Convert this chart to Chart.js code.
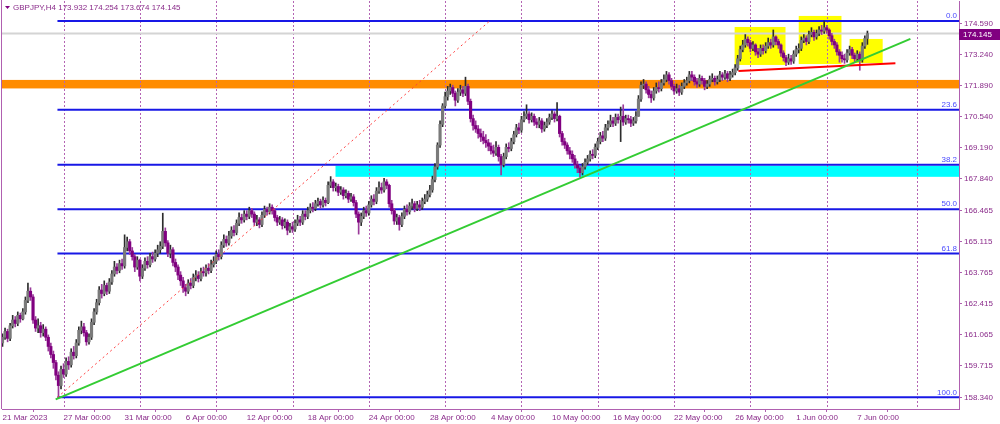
<!DOCTYPE html>
<html>
<head>
<meta charset="utf-8">
<title>GBPJPY,H4</title>
<script src="https://cdn.jsdelivr.net/npm/chart.js@4.4.0/dist/chart.umd.min.js"></script>
<style>
  html, body { margin: 0; padding: 0; background: #ffffff; }
  #wrap { width: 1000px; height: 424px; }
</style>
</head>
<body>
<div id="wrap"><canvas id="chart" width="1000" height="424"></canvas></div>
<script>
// bar numbers are counted from 27 Mar 00:00 (H4 bars, 6 per trading day)
const firstBar = -24;

const opens = [
  160.70,160.95,161.20,160.90,161.45,161.70,161.55,161.90,161.75,162.05,
  162.55,162.95,162.70,161.70,161.35,161.45,161.15,161.30,160.95,160.55,
  160.20,159.85,159.30,158.85,159.55,159.35,159.90,159.75,160.30,160.15,
  160.70,161.25,161.40,161.15,160.75,160.95,161.60,162.05,162.45,163.00,
  162.85,163.20,162.95,163.35,163.70,164.00,163.85,164.15,164.05,164.85,
  165.10,164.70,164.45,164.00,164.30,163.60,163.95,164.25,164.10,164.45,
  164.35,164.60,164.75,164.90,165.55,165.05,164.60,164.75,164.20,164.00,
  163.65,163.40,163.10,162.95,163.30,163.20,163.55,163.65,163.50,163.80,
  163.75,163.95,163.85,164.10,164.25,164.55,164.45,164.95,165.20,165.05,
  165.35,165.60,165.50,165.90,166.15,166.05,166.30,166.20,166.45,166.30,
  165.95,166.05,165.85,166.25,166.50,166.40,166.60,166.45,166.15,165.95,
  166.05,165.80,165.95,165.60,165.75,165.65,165.90,166.05,165.95,166.30,
  166.20,166.45,166.60,166.55,166.75,166.85,166.70,166.90,166.80,167.55,
  167.70,167.45,167.50,167.25,167.35,167.10,167.20,166.95,167.05,166.80,
  166.30,165.95,166.20,166.45,166.35,166.70,166.95,166.85,167.30,167.45,
  167.35,167.70,167.55,166.75,166.45,166.00,166.15,165.85,166.20,166.50,
  166.40,166.65,166.75,166.55,166.70,166.60,166.85,166.95,167.15,167.35,
  167.80,168.35,169.30,170.20,171.00,171.40,171.65,171.80,171.55,171.25,
  171.60,171.70,171.55,171.85,171.20,170.45,170.15,170.00,169.80,169.65,
  169.50,169.40,169.25,169.05,168.95,169.20,168.80,168.45,168.80,169.20,
  169.15,169.45,169.75,170.05,169.95,170.40,170.55,170.65,170.40,170.55,
  170.30,170.20,170.35,170.00,170.15,170.30,170.50,170.65,170.45,170.55,
  169.80,169.45,169.30,169.05,168.90,168.70,168.45,168.30,168.10,168.35,
  168.55,168.70,168.90,168.85,169.20,169.45,169.70,169.60,170.05,170.20,
  170.35,170.25,170.50,170.40,170.55,170.30,170.45,170.40,170.25,170.35,
  170.55,171.30,171.90,171.95,171.70,171.50,171.35,171.65,171.80,171.75,
  172.00,172.15,172.35,172.10,171.85,171.65,171.75,171.60,171.85,172.00,
  172.10,172.35,172.25,172.05,171.95,172.20,172.10,171.85,171.95,172.15,
  172.20,172.05,172.15,172.35,172.25,172.40,172.20,172.35,172.45,172.65,
  173.05,173.45,173.65,173.90,173.75,173.50,173.65,173.35,173.25,173.50,
  173.40,173.60,173.75,173.65,174.00,173.80,173.65,173.30,173.10,172.90,
  173.05,172.95,173.25,173.45,173.50,173.85,173.95,173.80,174.10,174.20,
  174.00,174.15,174.30,174.25,174.40,174.30,174.05,173.80,173.65,173.35,
  173.20,173.05,173.00,173.30,173.45,173.20,173.05,173.25,173.00,173.60,173.932
];
const highs = [
  161.10,161.35,161.30,161.55,161.90,161.85,162.05,162.00,162.20,162.70,
  163.30,163.10,162.80,161.85,161.75,161.60,161.50,161.40,161.05,160.70,
  160.35,159.95,159.45,159.70,159.80,160.05,160.10,160.45,160.55,160.85,
  161.40,161.65,161.55,161.25,161.10,161.75,162.20,162.60,163.15,163.25,
  163.40,163.30,163.50,163.85,164.25,164.15,164.30,164.35,165.40,165.30,
  165.20,164.85,164.55,164.45,164.35,164.10,164.40,164.45,164.60,164.65,
  164.75,164.95,165.10,166.34,165.70,165.15,164.95,164.85,164.35,164.10,
  163.80,163.55,163.25,163.45,163.50,163.70,163.85,163.80,163.95,164.00,
  164.10,164.15,164.30,164.45,164.70,164.75,165.10,165.40,165.35,165.55,
  165.75,165.80,166.05,166.35,166.30,166.45,166.45,166.60,166.55,166.40,
  166.25,166.15,166.40,166.65,166.60,166.75,166.70,166.55,166.25,166.20,
  166.15,166.10,166.05,165.90,165.95,166.05,166.25,166.20,166.45,166.45,
  166.60,166.75,166.80,166.90,167.00,166.95,167.05,167.00,167.70,167.93,
  167.80,167.65,167.60,167.50,167.45,167.35,167.30,167.20,167.15,166.90,
  166.40,166.35,166.60,166.65,166.85,167.10,167.15,167.45,167.70,167.65,
  167.85,167.80,167.60,166.90,166.55,166.30,166.25,166.35,166.65,166.70,
  166.80,166.95,166.85,166.85,166.90,167.00,167.15,167.30,167.55,167.95,
  168.50,169.40,170.35,171.10,171.60,171.85,171.95,171.90,171.65,171.75,
  171.90,171.85,172.25,171.95,171.30,170.60,170.35,170.15,170.00,169.90,
  169.75,169.55,169.40,169.30,169.45,169.30,168.90,168.95,169.35,169.40,
  169.60,169.90,170.20,170.25,170.55,170.75,171.05,170.75,170.70,170.65,
  170.45,170.50,170.45,170.30,170.45,170.65,170.80,170.75,171.15,170.60,
  169.90,169.60,169.40,169.20,169.05,168.85,168.60,168.40,168.50,168.70,
  168.85,169.05,169.10,169.35,169.60,169.85,169.90,170.20,170.35,170.60,
  170.50,170.65,170.65,170.95,171.05,170.60,170.60,170.55,170.50,170.75,
  171.45,172.05,172.15,172.05,171.85,171.65,171.80,172.00,172.05,172.15,
  172.35,172.50,172.45,172.20,171.95,171.95,171.90,172.00,172.15,172.25,
  172.50,172.50,172.35,172.20,172.35,172.30,172.20,172.10,172.30,172.40,
  172.30,172.30,172.50,172.45,172.55,172.50,172.50,172.60,172.80,173.20,
  173.60,173.85,174.10,174.00,173.85,173.80,173.70,173.50,173.65,173.65,
  173.75,173.95,173.90,174.30,174.05,173.90,173.70,173.40,173.20,173.25,
  173.20,173.40,173.60,173.70,174.00,174.10,174.05,174.25,174.40,174.30,
  174.30,174.45,174.50,174.69,174.50,174.35,174.15,173.90,173.75,173.45,
  173.35,173.25,173.45,173.60,173.55,173.30,173.40,173.35,173.75,174.05,174.254
];
const lows = [
  160.55,160.85,160.75,160.80,161.35,161.40,161.45,161.60,161.70,161.95,
  162.45,162.55,161.55,161.20,161.15,160.95,161.00,160.80,160.35,160.05,
  159.60,159.10,158.32,158.70,159.20,159.25,159.55,159.65,160.00,160.05,
  160.60,161.10,161.00,160.60,160.65,160.85,161.50,161.95,162.35,162.65,
  162.75,162.80,162.85,163.25,163.60,163.70,163.75,163.90,163.95,164.70,
  164.55,164.30,163.80,163.90,163.40,163.50,163.85,163.95,164.00,164.20,
  164.25,164.45,164.60,164.80,164.90,164.45,164.40,164.05,163.80,163.45,
  163.20,162.90,162.75,162.85,163.05,163.10,163.40,163.35,163.40,163.60,
  163.60,163.70,163.75,164.00,164.15,164.30,164.35,164.85,164.90,164.95,
  165.25,165.35,165.40,165.80,165.90,165.95,166.05,166.10,166.15,165.80,
  165.80,165.70,165.75,166.15,166.25,166.30,166.30,166.00,165.80,165.85,
  165.65,165.70,165.40,165.50,165.50,165.55,165.80,165.80,165.85,166.05,
  166.10,166.35,166.40,166.45,166.65,166.55,166.60,166.65,166.75,167.45,
  167.30,167.30,167.10,167.15,166.95,167.00,166.80,166.85,166.65,166.15,
  165.43,165.80,166.10,166.20,166.25,166.60,166.70,166.75,167.20,167.20,
  167.25,167.40,166.60,166.30,165.85,165.85,165.60,165.75,166.10,166.25,
  166.30,166.50,166.40,166.45,166.45,166.50,166.75,166.85,167.05,167.25,
  167.70,168.25,169.20,170.10,170.90,171.25,171.50,171.40,171.00,171.15,
  171.45,171.40,171.45,171.05,170.30,169.95,169.85,169.60,169.45,169.35,
  169.20,169.05,168.90,168.80,168.85,168.60,168.00,168.35,168.70,169.00,
  169.05,169.35,169.65,169.80,169.85,170.30,170.45,170.25,170.30,170.15,
  170.05,170.05,169.85,169.90,170.05,170.20,170.40,170.30,170.35,169.65,
  169.30,169.15,168.90,168.70,168.55,168.30,168.10,167.90,168.00,168.25,
  168.45,168.60,168.70,168.75,169.10,169.35,169.45,169.50,169.95,170.10,
  170.10,170.15,170.25,169.45,170.15,170.20,170.25,170.10,170.15,170.25,
  170.55,171.20,171.75,171.55,171.35,171.15,171.25,171.55,171.60,171.65,
  171.90,172.05,171.95,171.70,171.50,171.55,171.45,171.50,171.75,171.90,
  172.00,172.10,171.90,171.80,171.85,171.95,171.70,171.75,171.85,172.05,
  171.90,171.95,172.05,172.10,172.15,172.05,172.10,172.25,172.35,172.55,
  172.95,173.35,173.55,173.60,173.35,173.40,173.20,173.10,173.15,173.25,
  173.30,173.50,173.50,173.55,173.65,173.50,173.15,172.95,172.75,172.80,
  172.80,172.85,173.15,173.30,173.40,173.75,173.65,173.70,174.00,173.85,
  173.90,174.05,174.10,174.15,174.15,173.90,173.65,173.50,173.20,172.90,
  172.90,172.85,172.90,173.20,173.05,172.90,172.95,172.55,172.90,173.50,173.674
];
const closes = [
  160.95,161.20,160.90,161.45,161.70,161.55,161.90,161.75,162.05,162.55,
  162.95,162.70,161.70,161.35,161.45,161.15,161.30,160.95,160.55,160.20,
  159.85,159.30,158.85,159.55,159.35,159.90,159.75,160.30,160.15,160.70,
  161.25,161.40,161.15,160.75,160.95,161.60,162.05,162.45,163.00,162.85,
  163.20,162.95,163.35,163.70,164.00,163.85,164.15,164.05,164.85,165.10,
  164.70,164.45,164.00,164.30,163.60,163.95,164.25,164.10,164.45,164.35,
  164.60,164.75,164.90,165.55,165.05,164.60,164.75,164.20,164.00,163.65,
  163.40,163.10,162.95,163.30,163.20,163.55,163.65,163.50,163.80,163.75,
  163.95,163.85,164.10,164.25,164.55,164.45,164.95,165.20,165.05,165.35,
  165.60,165.50,165.90,166.15,166.05,166.30,166.20,166.45,166.30,165.95,
  166.05,165.85,166.25,166.50,166.40,166.60,166.45,166.15,165.95,166.05,
  165.80,165.95,165.60,165.75,165.65,165.90,166.05,165.95,166.30,166.20,
  166.45,166.60,166.55,166.75,166.85,166.70,166.90,166.80,167.55,167.70,
  167.45,167.50,167.25,167.35,167.10,167.20,166.95,167.05,166.80,166.30,
  165.95,166.20,166.45,166.35,166.70,166.95,166.85,167.30,167.45,167.35,
  167.70,167.55,166.75,166.45,166.00,166.15,165.85,166.20,166.50,166.40,
  166.65,166.75,166.55,166.70,166.60,166.85,166.95,167.15,167.35,167.80,
  168.35,169.30,170.20,171.00,171.40,171.65,171.80,171.55,171.25,171.60,
  171.70,171.55,171.85,171.20,170.45,170.15,170.00,169.80,169.65,169.50,
  169.40,169.25,169.05,168.95,169.20,168.80,168.45,168.80,169.20,169.15,
  169.45,169.75,170.05,169.95,170.40,170.55,170.65,170.40,170.55,170.30,
  170.20,170.35,170.00,170.15,170.30,170.50,170.65,170.45,170.55,169.80,
  169.45,169.30,169.05,168.90,168.70,168.45,168.30,168.10,168.35,168.55,
  168.70,168.90,168.85,169.20,169.45,169.70,169.60,170.05,170.20,170.35,
  170.25,170.50,170.40,170.55,170.30,170.45,170.40,170.25,170.35,170.55,
  171.30,171.90,171.95,171.70,171.50,171.35,171.65,171.80,171.75,172.00,
  172.15,172.35,172.10,171.85,171.65,171.75,171.60,171.85,172.00,172.10,
  172.35,172.25,172.05,171.95,172.20,172.10,171.85,171.95,172.15,172.20,
  172.05,172.15,172.35,172.25,172.40,172.20,172.35,172.45,172.65,173.05,
  173.45,173.65,173.90,173.75,173.50,173.65,173.35,173.25,173.50,173.40,
  173.60,173.75,173.65,174.00,173.80,173.65,173.30,173.10,172.90,173.05,
  172.95,173.25,173.45,173.50,173.85,173.95,173.80,174.10,174.20,174.00,
  174.15,174.30,174.25,174.40,174.30,174.05,173.80,173.65,173.35,173.20,
  173.05,173.00,173.30,173.45,173.20,173.05,173.25,173.00,173.60,173.932,174.145
];

// axes
const priceTicks = [174.590, 173.240, 171.890, 170.540, 169.190, 167.840, 166.465, 165.115, 163.765, 162.415, 161.065, 159.715, 158.340];
const timeTicks = [-24, 0, 24, 48, 72, 96, 120, 144, 168, 192, 216, 240, 264, 288, 312];
const timeLabels = ["21 Mar 2023", "27 Mar 00:00", "31 Mar 00:00", "6 Apr 00:00", "12 Apr 00:00", "18 Apr 00:00", "24 Apr 00:00",
  "28 Apr 00:00", "4 May 00:00", "10 May 00:00", "16 May 00:00", "22 May 00:00", "26 May 00:00", "1 Jun 00:00", "7 Jun 00:00"];
const weekLines = [0, 30, 60, 90, 120, 150, 180, 210, 240, 270, 300, 335.5];

// drawn objects
const fibLevels = [0, 23.6, 38.2, 50, 61.8, 100];
const fibHigh = 174.69, fibLow = 158.34, fibFrom = -2.4;
const fibDiag = [[-2.4, 158.34], [167.5, 174.69]];
const trendLine = [[-3.1, 158.25], [332.9, 173.91]];
const neckLine = [[265.3, 172.52], [327.0, 172.85]];
const orangeZone = [171.76, 172.13];
const cyanZone = [106.9, 167.92, 168.40];
const boxFrom = [263.8, 289.0, 309.0];
const boxTo = [283.8, 305.8, 322.0];
const boxHigh = [174.43, 174.91, 173.91];
const boxLow = [172.78, 172.82, 172.86];

const X_MIN = -24.2, X_MAX = 352.0;
const Y_MIN = 157.832, Y_MAX = 175.559;
const FRAME = "#b060b0";
const TEXT = "#8a2b8a";

Chart.defaults.font.family = '"Liberation Sans", Arial, sans-serif';
Chart.defaults.font.size = 8;

let bars = opens.map((o, k) => firstBar + k);
let isBull = closes.map((c, k) => c >= opens[k]);
let last = opens.length - 1;
let bid = closes[last];

function pts(line) {
  return line.map((p) => ({ x: p[0], y: p[1] }));
}

let datasets = [
  {
    type: "bar",
    data: bars.map((x, k) => ({ x: x, y: [opens[k], closes[k]] })),
    backgroundColor: isBull.map((b) => (b ? "#7a7a7a" : "#800080")),
    barThickness: 2.5,
    minBarLength: 1,
    grouped: false,
    order: 1,
  },
  {
    type: "bar",
    data: bars.map((x, k) => ({ x: x, y: [lows[k], highs[k]] })),
    backgroundColor: isBull.map((b) => (b ? "#2c2c2c" : "#9a3a9a")),
    barThickness: 1,
    grouped: false,
    order: 2,
  },
  { type: "line", data: pts(trendLine), borderColor: "#33cc33", borderWidth: 2, pointRadius: 0, order: 0 },
  { type: "line", data: pts(neckLine), borderColor: "#ff0000", borderWidth: 2, pointRadius: 0, order: 0 },
  { type: "line", data: pts(fibDiag), borderColor: "#ff4040", borderWidth: 1, borderDash: [2, 3], pointRadius: 0, order: 0 },
];

// fibonacci levels
fibLevels.forEach(function (lv) {
  let p = fibHigh - (fibHigh - fibLow) * lv / 100;
  datasets.push({
    type: "line",
    data: [{ x: fibFrom, y: p }, { x: X_MAX, y: p }],
    borderColor: "#1818e6",
    borderWidth: 2,
    pointRadius: 0,
    order: 3,
  });
});

// zones, boxes, separators, bid line
const backPlugin = {
  id: "back",
  beforeDatasetsDraw(chart) {
    let ctx = chart.ctx, a = chart.chartArea, xs = chart.scales.x, ys = chart.scales.y;
    ctx.save();
    ctx.beginPath();
    ctx.rect(a.left, a.top, a.right - a.left, a.bottom - a.top);
    ctx.clip();

    ctx.fillStyle = "#ff8c00";
    let oy = ys.getPixelForValue(orangeZone[1]);
    ctx.fillRect(a.left, oy, a.right - a.left, ys.getPixelForValue(orangeZone[0]) - oy);

    ctx.fillStyle = "#00ffff";
    let cx = xs.getPixelForValue(cyanZone[0]);
    let cy = ys.getPixelForValue(cyanZone[2]);
    ctx.fillRect(cx, cy, a.right - cx, ys.getPixelForValue(cyanZone[1]) - cy);

    ctx.fillStyle = "#ffff00";
    for (let i = 0; i < boxFrom.length; i++) {
      let x0 = xs.getPixelForValue(boxFrom[i]), x1 = xs.getPixelForValue(boxTo[i]);
      let y0 = ys.getPixelForValue(boxHigh[i]), y1 = ys.getPixelForValue(boxLow[i]);
      ctx.fillRect(x0, y0, x1 - x0, y1 - y0);
    }

    ctx.strokeStyle = "#b464b4";
    ctx.lineWidth = 1;
    ctx.setLineDash([2, 2]);
    weekLines.forEach(function (w) {
      let x = Math.round(xs.getPixelForValue(w)) + 0.5;
      ctx.beginPath();
      ctx.moveTo(x, a.top);
      ctx.lineTo(x, a.bottom);
      ctx.stroke();
    });
    ctx.setLineDash([]);

    ctx.strokeStyle = "#d4d4d4";
    ctx.lineWidth = 2;
    let by = ys.getPixelForValue(bid);
    ctx.beginPath();
    ctx.moveTo(a.left, by);
    ctx.lineTo(a.right, by);
    ctx.stroke();
    ctx.restore();
  },
};

// fib labels, price tag, title
const frontPlugin = {
  id: "front",
  afterDraw(chart) {
    let ctx = chart.ctx, a = chart.chartArea, ys = chart.scales.y;
    ctx.save();
    ctx.font = '8px "Liberation Sans", Arial, sans-serif';

    ctx.fillStyle = "#4a4aff";
    ctx.textAlign = "right";
    ctx.textBaseline = "bottom";
    fibLevels.forEach(function (lv) {
      let p = fibHigh - (fibHigh - fibLow) * lv / 100;
      ctx.fillText(lv.toFixed(1), a.right - 2, ys.getPixelForValue(p) - 1);
    });

    let by = Math.round(ys.getPixelForValue(bid));
    ctx.fillStyle = "#800080";
    ctx.fillRect(a.right, by - 5, chart.width - a.right, 11);
    ctx.fillStyle = "#ffffff";
    ctx.textAlign = "left";
    ctx.textBaseline = "middle";
    ctx.fillText(bid.toFixed(3), a.right + 4, by + 0.5);

    ctx.strokeStyle = FRAME;
    ctx.lineWidth = 1;
    ctx.beginPath();
    ctx.moveTo(a.left - 0.5, 0);
    ctx.lineTo(a.left - 0.5, a.bottom);
    ctx.stroke();

    ctx.fillStyle = "#800080";
    ctx.beginPath();
    ctx.moveTo(5, 6);
    ctx.lineTo(10, 6);
    ctx.lineTo(7.5, 9);
    ctx.closePath();
    ctx.fill();
    ctx.fillStyle = TEXT;
    let title = "GBPJPY,H4 " + [opens[last], highs[last], lows[last], closes[last]].map((v) => v.toFixed(3)).join(" ");
    ctx.fillText(title, 13, 8);
    ctx.restore();
  },
};

new Chart(document.getElementById("chart"), {
  type: "bar",
  data: { datasets: datasets },
  options: {
    responsive: false,
    devicePixelRatio: 1,
    animation: false,
    layout: { padding: { left: 2, top: 1, right: 0, bottom: 0 } },
    plugins: { legend: { display: false }, tooltip: { enabled: false } },
    scales: {
      x: {
        type: "linear",
        min: X_MIN,
        max: X_MAX,
        bounds: "data",
        offset: false,
        afterBuildTicks: (s) => { s.ticks = timeTicks.map((v) => ({ value: v })); },
        afterFit: (s) => {
          s.height = 15;
          s.paddingLeft = 0;
          s.paddingRight = 0;
        },
        grid: { drawOnChartArea: false, tickLength: 3, color: FRAME },
        border: { color: FRAME, width: 1 },
        ticks: {
          autoSkip: false,
          maxRotation: 0,
          align: "start",
          padding: 1,
          color: TEXT,
          callback: (v, i) => timeLabels[i],
        },
      },
      y: {
        type: "linear",
        position: "right",
        min: Y_MIN,
        max: Y_MAX,
        bounds: "data",
        afterBuildTicks: (s) => { s.ticks = priceTicks.map((v) => ({ value: v })); },
        afterFit: (s) => {
          s.width = 41;
          s.paddingTop = 0;
          s.paddingBottom = 0;
        },
        grid: { drawOnChartArea: false, tickLength: 3, color: FRAME },
        border: { color: FRAME, width: 1 },
        ticks: { padding: 2, color: TEXT, callback: (v) => Number(v).toFixed(3) },
      },
    },
  },
  plugins: [backPlugin, frontPlugin],
});
</script>
</body>
</html>
